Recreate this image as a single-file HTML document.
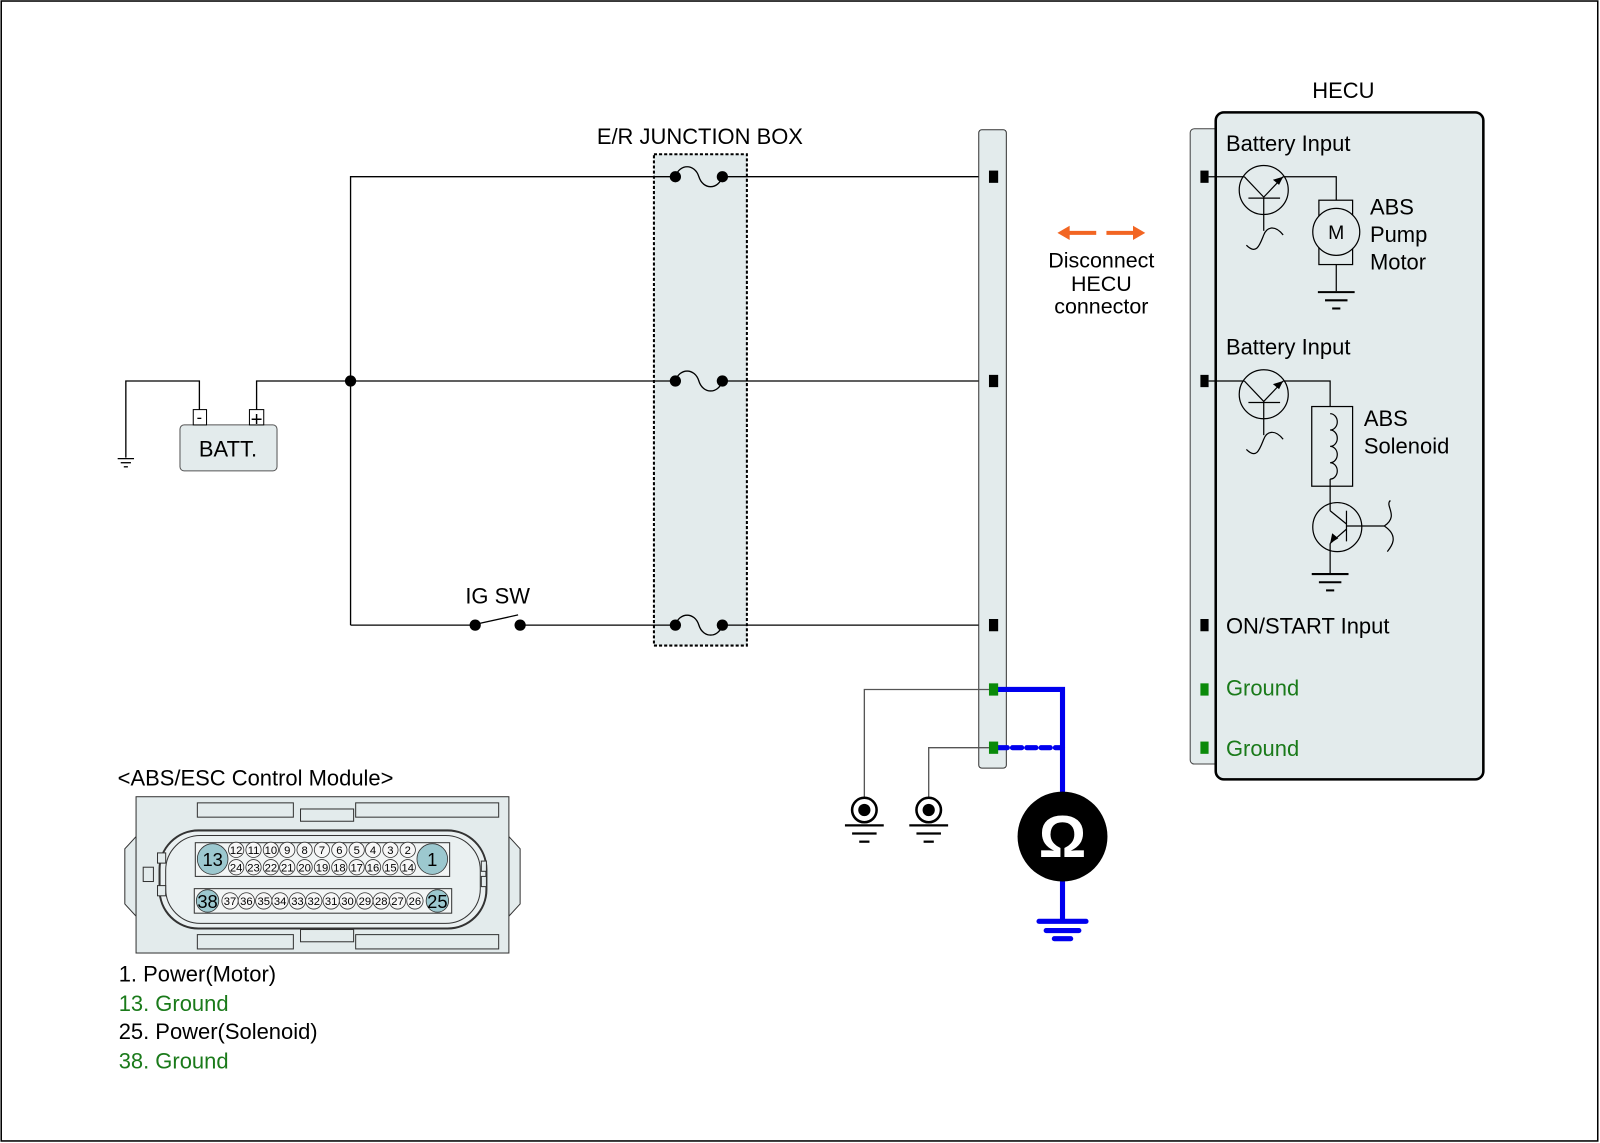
<!DOCTYPE html>
<html><head><meta charset="utf-8"><style>
html,body{margin:0;padding:0;background:#fff}
svg{display:block}
text{font-family:"Liberation Sans",Arial,sans-serif}
</style></head><body>
<svg width="1600" height="1143" viewBox="0 0 1566 1119" xmlns="http://www.w3.org/2000/svg">
<rect x="1" y="1" width="1563" height="1116" fill="#fff" stroke="#000" stroke-width="1.5"/>

<!-- junction box -->
<rect x="640" y="151" width="91" height="481" fill="#e3ebec" stroke="#000" stroke-width="2" stroke-dasharray="3,2"/>
<text x="685" y="141" font-size="21.5" text-anchor="middle">E/R JUNCTION BOX</text>

<!-- wires -->
<g stroke="#000" stroke-width="1.3" fill="none">
<polyline points="343,612 343,173 661,173"/>
<line x1="707" y1="173" x2="972" y2="173"/>
<polyline points="251,401 251,373 661,373"/>
<line x1="707" y1="373" x2="972" y2="373"/>
<line x1="343" y1="612" x2="463" y2="612"/>
<line x1="466" y1="611" x2="507" y2="602"/>
<line x1="509" y1="612" x2="661" y2="612"/>
<line x1="707" y1="612" x2="972" y2="612"/>
<polyline points="195,401 195,373 123,373 123,448"/>
<line x1="115" y1="449" x2="131" y2="449"/>
<line x1="118" y1="453" x2="128" y2="453"/>
<line x1="121" y1="457" x2="125" y2="457"/>
<path d="M661,173 C665,160 680,160 684,173 C688,186 703,186 707,173"/>
<path d="M661,373 C665,360 680,360 684,373 C688,386 703,386 707,373"/>
<path d="M661,612 C665,599 680,599 684,612 C688,625 703,625 707,612"/>
</g>
<g fill="#000">
<circle cx="343" cy="373" r="5.5"/>
<circle cx="661" cy="173" r="5.5"/><circle cx="707" cy="173" r="5.5"/>
<circle cx="661" cy="373" r="5.5"/><circle cx="707" cy="373" r="5.5"/>
<circle cx="661" cy="612" r="5.5"/><circle cx="707" cy="612" r="5.5"/>
<circle cx="465" cy="612" r="5.5"/><circle cx="509" cy="612" r="5.5"/>
</g>
<text x="487" y="591" font-size="21.5" text-anchor="middle">IG SW</text>

<!-- battery -->
<rect x="176" y="416" width="95" height="45" rx="4" fill="#e3ebec" stroke="#555" stroke-width="1"/>
<rect x="189" y="401" width="13" height="15" fill="#fff" stroke="#000" stroke-width="1"/>
<rect x="244" y="401" width="14" height="15" fill="#fff" stroke="#000" stroke-width="1"/>
<text x="195" y="414" font-size="16" text-anchor="middle">-</text>
<text x="251" y="417" font-size="20" text-anchor="middle">+</text>
<text x="223" y="447" font-size="21.5" text-anchor="middle">BATT.</text>

<!-- rail -->
<rect x="958" y="127" width="27" height="625" rx="3" fill="#e3ebec" stroke="#333" stroke-width="1"/>
<rect x="968" y="167" width="9" height="12" fill="#000"/>
<rect x="968" y="367" width="9" height="12" fill="#000"/>
<rect x="968" y="606" width="9" height="12" fill="#000"/>

<g stroke="#555" stroke-width="1.3" fill="none">
<polyline points="968,675 846,675 846,780"/>
<polyline points="968,732 909,732 909,780"/>
</g>
<g>
<circle cx="846" cy="793" r="12" fill="#fff" stroke="#000" stroke-width="2.5"/>
<circle cx="846" cy="793" r="6" fill="#000"/>
<circle cx="909" cy="793" r="12" fill="#fff" stroke="#000" stroke-width="2.5"/>
<circle cx="909" cy="793" r="6" fill="#000"/>
<g stroke="#000" stroke-width="2.2">
<line x1="827" y1="808" x2="865" y2="808"/><line x1="834" y1="816" x2="858" y2="816"/><line x1="841" y1="824" x2="851" y2="824"/>
<line x1="890" y1="808" x2="928" y2="808"/><line x1="897" y1="816" x2="921" y2="816"/><line x1="904" y1="824" x2="914" y2="824"/>
</g>
</g>
<g stroke="#0000ee" stroke-width="5" fill="none" stroke-linecap="round">
<polyline points="977,675 1040,675 1040,790"/>
<line x1="977" y1="732" x2="1040" y2="732" stroke-dasharray="9,5"/>
<line x1="1040" y1="850" x2="1040" y2="901"/>
<line x1="1017" y1="902" x2="1063" y2="902"/>
<line x1="1024" y1="911" x2="1056" y2="911"/>
<line x1="1032" y1="919" x2="1048" y2="919"/>
</g>
<rect x="968" y="669" width="9" height="12" fill="#0a8a0a"/>
<rect x="968" y="726" width="9" height="12" fill="#0a8a0a"/>
<circle cx="1040" cy="819" r="44" fill="#000"/>
<text x="1040" y="839" font-size="58" font-weight="bold" fill="#fff" text-anchor="middle">Ω</text>

<!-- disconnect -->
<g fill="#f26522" stroke="#f26522">
<line x1="1045" y1="228" x2="1073" y2="228" stroke-width="4"/>
<polygon points="1035,228 1047,221 1047,235" stroke="none"/>
<line x1="1083" y1="228" x2="1111" y2="228" stroke-width="4"/>
<polygon points="1121,228 1109,221 1109,235" stroke="none"/>
</g>
<text x="1078" y="262" font-size="21" text-anchor="middle">Disconnect</text>
<text x="1078" y="285" font-size="21" text-anchor="middle">HECU</text>
<text x="1078" y="307" font-size="21" text-anchor="middle">connector</text>

<!-- HECU -->
<text x="1315" y="96" font-size="21.5" text-anchor="middle">HECU</text>
<rect x="1165" y="126" width="35" height="622" rx="4" fill="#e3ebec" stroke="#444" stroke-width="1"/>
<rect x="1190" y="110" width="262" height="653" rx="8" fill="#e3ebec" stroke="#000" stroke-width="2.5"/>
<rect x="1175" y="167" width="8" height="12" fill="#000"/>
<rect x="1175" y="367" width="8" height="12" fill="#000"/>
<rect x="1175" y="606" width="8" height="12" fill="#000"/>
<rect x="1175" y="669" width="8" height="12" fill="#0a8a0a"/>
<rect x="1175" y="726" width="8" height="12" fill="#0a8a0a"/>
<g font-size="21.5">
<text x="1200" y="148">Battery Input</text>
<text x="1200" y="347">Battery Input</text>
<text x="1200" y="620">ON/START Input</text>
<text x="1200" y="681" fill="#1a7a1a">Ground</text>
<text x="1200" y="740" fill="#1a7a1a">Ground</text>
<text x="1341" y="210">ABS</text><text x="1341" y="237">Pump</text><text x="1341" y="264">Motor</text>
<text x="1335" y="417">ABS</text><text x="1335" y="444">Solenoid</text>
</g>
<g stroke="#000" stroke-width="1.2" fill="none">
<line x1="1183" y1="173" x2="1218" y2="173"/>
<circle cx="1237" cy="186" r="24"/>
<line x1="1218" y1="173" x2="1237" y2="193"/>
<line x1="1237" y1="193" x2="1256" y2="173"/>
<line x1="1222" y1="194" x2="1253" y2="194"/>
<line x1="1237" y1="193" x2="1237" y2="226"/>
<path d="M1220,240 C1230,250 1233,240 1237,230 C1240,222 1248,220 1256,230"/>
<polyline points="1256,173 1308,173 1308,196"/>
<rect x="1291" y="196" width="33" height="63"/>
<circle cx="1308" cy="227" r="23" fill="#e3ebec"/>
<line x1="1308" y1="259" x2="1308" y2="285"/>
<line x1="1183" y1="373" x2="1218" y2="373"/>
<circle cx="1237" cy="386" r="24"/>
<line x1="1218" y1="373" x2="1237" y2="393"/>
<line x1="1237" y1="393" x2="1256" y2="373"/>
<line x1="1222" y1="394" x2="1253" y2="394"/>
<line x1="1237" y1="393" x2="1237" y2="426"/>
<path d="M1220,440 C1230,450 1233,440 1237,430 C1240,422 1248,420 1256,430"/>
<polyline points="1256,373 1302,373 1302,398"/>
<rect x="1284" y="398" width="40" height="78"/>
<path d="M1302,405 a7,8 0 0 1 0,16 a7,8 0 0 1 0,16 a7,8 0 0 1 0,16 a7,8 0 0 1 0,16"/>
<line x1="1302" y1="469" x2="1302" y2="500"/>
<circle cx="1309" cy="516" r="24"/>
<line x1="1302" y1="500" x2="1318" y2="513"/>
<line x1="1318" y1="500" x2="1318" y2="530"/>
<line x1="1318" y1="518" x2="1302" y2="532"/>
<line x1="1318" y1="515" x2="1355" y2="515"/>
<path d="M1355,515 C1370,505 1355,495 1361,490 M1355,515 C1370,525 1362,535 1358,540"/>
<line x1="1302" y1="532" x2="1302" y2="561"/>
</g>
<polygon points="1256,173 1246,176 1252,181" fill="#000"/>
<polygon points="1256,373 1246,376 1252,381" fill="#000"/>
<polygon points="1302,532 1304,522 1310,527" fill="#000"/>
<text x="1308" y="234" font-size="19" text-anchor="middle">M</text>
<g stroke="#000" stroke-width="2">
<line x1="1290" y1="286" x2="1326" y2="286"/><line x1="1297" y1="294" x2="1319" y2="294"/><line x1="1304" y1="302" x2="1312" y2="302"/>
<line x1="1284" y1="562" x2="1320" y2="562"/><line x1="1291" y1="570" x2="1313" y2="570"/><line x1="1298" y1="578" x2="1306" y2="578"/>
</g>

<!-- module -->
<text x="115" y="769" font-size="21.5">&lt;ABS/ESC Control Module&gt;</text>
<g stroke="#333" stroke-width="1" fill="#e3ebec">
<path d="M133,819 L122,831 L122,885 L133,897 Z"/>
<path d="M498,819 L509,831 L509,885 L498,897 Z"/>
<rect x="133" y="780" width="365" height="153"/>
<rect x="193" y="786" width="94" height="14"/>
<rect x="348" y="786" width="140" height="14"/>
<rect x="294" y="792" width="52" height="12"/>
<rect x="193" y="915" width="94" height="14"/>
<rect x="348" y="915" width="140" height="14"/>
<rect x="294" y="910" width="52" height="12"/>
<rect x="156" y="813" width="320" height="96" rx="38" fill="#eaf0f1" stroke-width="2"/>
<rect x="162" y="818" width="308" height="86" rx="34" fill="none"/>
<rect x="140" y="849" width="10" height="14"/>
<rect x="154" y="835" width="8" height="10"/><rect x="154" y="867" width="8" height="10"/>
<rect x="471" y="843" width="5" height="10"/><rect x="471" y="858" width="5" height="10"/>
<rect x="191" y="825" width="249" height="33" fill="#f2f5f5"/>
<rect x="190" y="870" width="252" height="24" fill="#f2f5f5"/>
</g>
<g stroke="#333" stroke-width="0.8">
<circle cx="208" cy="841" r="15" fill="#9cc8cf"/><circle cx="423" cy="841" r="15" fill="#9cc8cf"/>
<circle cx="203" cy="882" r="11" fill="#9cc8cf"/><circle cx="428" cy="882" r="11" fill="#9cc8cf"/>
<g fill="#f7f7f7">
<circle cx="231" cy="832" r="7.5"/><circle cx="248" cy="832" r="7.5"/><circle cx="265" cy="832" r="7.5"/><circle cx="281" cy="832" r="7.5"/><circle cx="298" cy="832" r="7.5"/><circle cx="315" cy="832" r="7.5"/><circle cx="332" cy="832" r="7.5"/><circle cx="349" cy="832" r="7.5"/><circle cx="365" cy="832" r="7.5"/><circle cx="382" cy="832" r="7.5"/><circle cx="399" cy="832" r="7.5"/>
<circle cx="231" cy="849" r="7.5"/><circle cx="248" cy="849" r="7.5"/><circle cx="265" cy="849" r="7.5"/><circle cx="281" cy="849" r="7.5"/><circle cx="298" cy="849" r="7.5"/><circle cx="315" cy="849" r="7.5"/><circle cx="332" cy="849" r="7.5"/><circle cx="349" cy="849" r="7.5"/><circle cx="365" cy="849" r="7.5"/><circle cx="382" cy="849" r="7.5"/><circle cx="399" cy="849" r="7.5"/>
<circle cx="225" cy="882" r="8"/><circle cx="241" cy="882" r="8"/><circle cx="258" cy="882" r="8"/><circle cx="274" cy="882" r="8"/><circle cx="291" cy="882" r="8"/><circle cx="307" cy="882" r="8"/><circle cx="324" cy="882" r="8"/><circle cx="340" cy="882" r="8"/><circle cx="357" cy="882" r="8"/><circle cx="373" cy="882" r="8"/><circle cx="389" cy="882" r="8"/><circle cx="406" cy="882" r="8"/>
</g>
</g>
<g font-size="11" text-anchor="middle">
<text x="231" y="836">12</text><text x="248" y="836">11</text><text x="265" y="836">10</text><text x="281" y="836">9</text><text x="298" y="836">8</text><text x="315" y="836">7</text><text x="332" y="836">6</text><text x="349" y="836">5</text><text x="365" y="836">4</text><text x="382" y="836">3</text><text x="399" y="836">2</text>
<text x="231" y="853">24</text><text x="248" y="853">23</text><text x="265" y="853">22</text><text x="281" y="853">21</text><text x="298" y="853">20</text><text x="315" y="853">19</text><text x="332" y="853">18</text><text x="349" y="853">17</text><text x="365" y="853">16</text><text x="382" y="853">15</text><text x="399" y="853">14</text>
<text x="225" y="886">37</text><text x="241" y="886">36</text><text x="258" y="886">35</text><text x="274" y="886">34</text><text x="291" y="886">33</text><text x="307" y="886">32</text><text x="324" y="886">31</text><text x="340" y="886">30</text><text x="357" y="886">29</text><text x="373" y="886">28</text><text x="389" y="886">27</text><text x="406" y="886">26</text>
</g>
<g font-size="18" text-anchor="middle">
<text x="208" y="848">13</text><text x="423" y="848">1</text>
<text x="203" y="889">38</text><text x="428" y="889">25</text>
</g>
<g font-size="21.5">
<text x="116" y="961">1. Power(Motor)</text>
<text x="116" y="990" fill="#1a7a1a">13. Ground</text>
<text x="116" y="1017">25. Power(Solenoid)</text>
<text x="116" y="1046" fill="#1a7a1a">38. Ground</text>
</g>
</svg>
</body></html>
